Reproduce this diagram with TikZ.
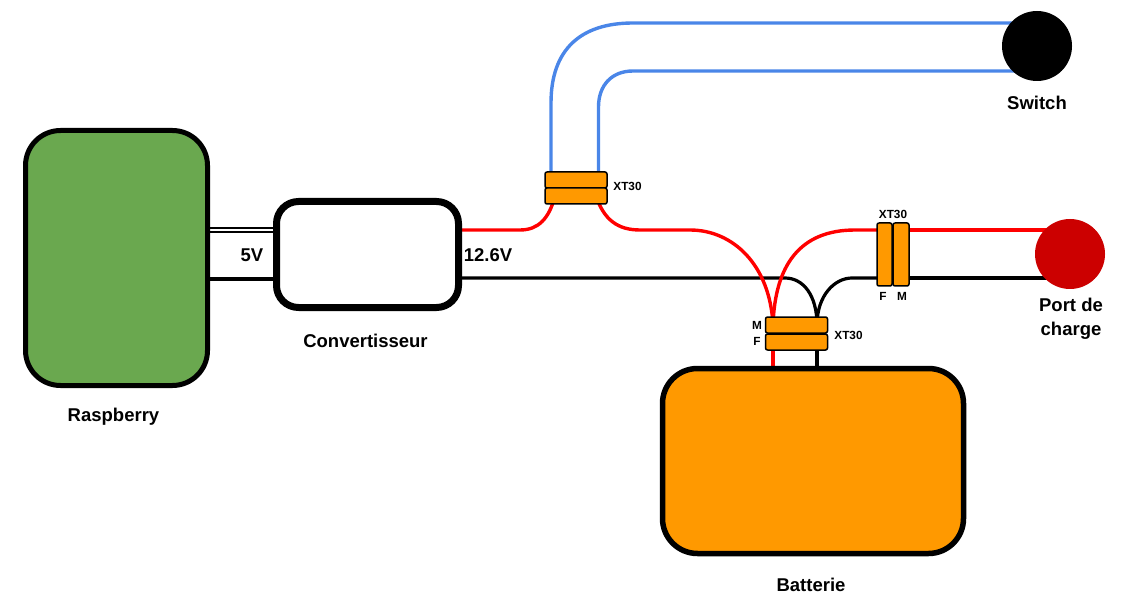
\documentclass[tikz,border=0pt]{standalone}
\usepackage{fontspec}
\setmainfont{Liberation Sans}
\usetikzlibrary{backgrounds}
\definecolor{boardgreen}{HTML}{6AA84F}
\definecolor{battorange}{HTML}{FF9900}
\definecolor{wireblue}{HTML}{4A86E8}
\definecolor{wirered}{HTML}{FF0000}
\definecolor{portred}{HTML}{CC0000}
\tikzset{
  bigbox/.style={draw,rectangle,rounded corners=#1,outer sep=0pt,inner sep=0pt},
  xtbox/.style={draw,rectangle,rounded corners=2pt,line width=1.5pt,fill=battorange,outer sep=0pt,inner sep=0pt},
  roundport/.style={circle,minimum size=70pt,inner sep=0pt,outer sep=0pt},
  redwire/.style={wirered,line width=3.4pt},
  bluewire/.style={wireblue,line width=3.4pt},
  blackwire/.style={black,line width=3.2pt},
  lbl/.style={font=\bfseries\fontsize{18.5}{24}\selectfont,inner sep=0pt,align=center},
  smalllbl/.style={font=\bfseries\fontsize{11.8}{13}\selectfont,inner sep=0pt}
}
\begin{document}
\begin{tikzpicture}[line cap=butt,line join=round,x=1pt,y=-1pt]
\useasboundingbox (0,0) rectangle (1124,612);

\node[bigbox=35pt,line width=5pt,fill=boardgreen,minimum width=182pt,minimum height=255pt] (raspberry) at (116.5,258) {};
\node[bigbox=22pt,line width=7pt,fill=white,minimum width=182pt,minimum height=106pt] (conv) at (367.5,254.5) {};
\node[bigbox=35pt,line width=5.5pt,fill=battorange,minimum width=301pt,minimum height=185pt] (batt) at (813,461) {};
\node[roundport,fill=black] (switch) at (1037,46) {};
\node[roundport,fill=portred] (port) at (1070,254) {};

% the connectors
\node[xtbox,minimum width=62pt,minimum height=16pt] (xttop) at (576,180) {};
\node[xtbox,minimum width=62pt,minimum height=16pt] (xtbot) at (576,196) {};
\node[xtbox,minimum width=62pt,minimum height=16pt] (xtm) at (796.5,325) {};
\node[xtbox,minimum width=62pt,minimum height=16pt] (xtf) at (796.5,342) {};
\node[xtbox,minimum width=15pt,minimum height=63pt] (xtleft) at (884.5,254.5) {};
\node[xtbox,minimum width=16pt,minimum height=63pt] (xtright) at (901,254.5) {};

\begin{scope}[on background layer]
% raspberry to converter
\draw[line width=1.8pt,double,double distance=1.7pt] (raspberry.east |- 0,230) -- (conv.west |- 0,230);
\draw[blackwire] (raspberry.east |- 0,279) -- (conv.west |- 0,279);

% switch wires
\draw[bluewire] (xttop.center -| 551,0) -- (551,103) .. controls (551,50) and (580,23) .. (633,23) -- (switch |- 0,23);
\draw[bluewire] (xttop.center -| 598.5,0) -- (598.5,107) .. controls (598.5,85) and (612,71) .. (633,71) -- (switch |- 0,71);

% black wires
\draw[blackwire] (conv |- 0,278) -- (785,278) .. controls (803,278) and (817,295) .. (xtm.center -| 817,0);
\draw[blackwire] (xtleft |- 0,278) -- (852,278) .. controls (835,278) and (817,295) .. (xtm.center -| 817,0);
\draw[blackwire] (xtright |- 0,278) -- (port |- 0,278);
\draw[blackwire] (xtf.center -| 817,0) -- (batt.center -| 817,0);

% red wires
\draw[redwire] (conv |- 0,230) -- (520,230) .. controls (538,230) and (549,219) .. (xtbot.center -| 555,0);
\draw[redwire] (xtbot.center -| 596,0) .. controls (604,220) and (618,230) .. (640,230) -- (690,230) .. controls (733,230) and (770,265) .. (xtm.center -| 773,0);
\draw[redwire] (xtleft |- 0,230) -- (855,230) .. controls (800,230) and (775,265) .. (xtm.center -| 773,0);
\draw[redwire] (xtright |- 0,230) -- (port |- 0,230);
\draw[redwire] (xtf.center -| 773,0) -- (batt.center -| 773,0);
\end{scope}

% labels
\node[lbl] (lblrasp) at (113.5,416.5) {Raspberry};
\node[lbl] (lblconv) at (365.5,340.5) {Convertisseur};
\node[lbl] (lblbatt) at (811,585) {Batterie};
\node[lbl] (lblswitch) at (1037,102.5) {Switch};
\node[lbl] (lblport) at (1071,319) {Port de\\charge};
\node[lbl] (lblfive) at (252,255.5) {5V};
\node[lbl] (lbltwelve) at (488,255.5) {12.6V};
\node[smalllbl] (lblxta) at (627.5,186) {XT30};
\node[smalllbl] (lblxtb) at (893,214) {XT30};
\node[smalllbl] (lblxtc) at (848.5,335) {XT30};
\node[smalllbl] (lblm) at (757,325) {M};
\node[smalllbl] (lblf) at (757,341) {F};
\node[smalllbl] (lblfb) at (883,296) {F};
\node[smalllbl] (lblmb) at (902,296) {M};
\end{tikzpicture}
\end{document}
